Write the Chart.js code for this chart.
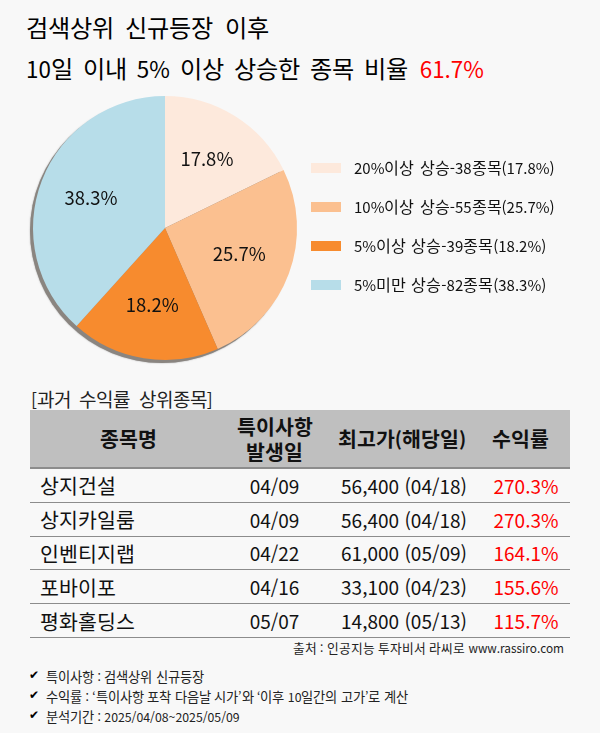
<!DOCTYPE html>
<html lang="ko"><head><meta charset="utf-8">
<script src="https://cdn.jsdelivr.net/npm/chart.js@4/dist/chart.umd.min.js"></script>
<style>
@font-face{font-family:"HG";src:local("Noto Sans CJK KR"),local("Noto Sans CJK KR Regular"),local("NotoSansCJKkr-Regular");font-weight:400;unicode-range:U+AC00-D7A3;size-adjust:108%;}
@font-face{font-family:"HG";src:local("Noto Sans CJK KR Bold"),local("NotoSansCJKkr-Bold");font-weight:700;unicode-range:U+AC00-D7A3;size-adjust:108%;}
html,body{margin:0;padding:0;background:#f8f8f8;}
body{position:relative;width:600px;height:733px;overflow:hidden;font-family:"HG","Noto Sans CJK KR","Noto Sans",sans-serif;color:#000;}
.abs{position:absolute;white-space:nowrap;}
#chartBox{position:absolute;left:0;top:0;width:600px;height:380px;}
.sw{position:absolute;left:311px;width:30px;height:10px;}
.lg{position:absolute;left:354px;font-size:15px;line-height:20px;white-space:nowrap;color:#111;word-spacing:1px;}
#tbl{position:absolute;left:30px;top:410px;width:540px;border-collapse:collapse;table-layout:fixed;}
#tbl th{background:#bfbfbf;font-size:19px;line-height:25px;height:57px;padding:0;font-weight:700;border-bottom:2px solid #8c8c8c;color:#111;}
#tbl th:last-child{padding-right:12px;}
#tbl td{height:32.8px;padding:0;font-size:19px;border-bottom:1px solid #8c8c8c;text-align:center;color:#111;white-space:nowrap;}
#tbl td.n{text-align:left;padding-left:10px;}
#tbl td.h{padding-left:4px;}
#tbl td.r{color:#f00;}
.note{position:absolute;left:46px;font-size:12.3px;line-height:16px;white-space:nowrap;color:#222;}
.ck{position:absolute;left:29px;font-size:12px;line-height:14px;color:#000;font-family:"DejaVu Sans";}
</style></head><body>
<div class="abs" style="left:26px;top:11px;font-size:22.4px;line-height:32px;word-spacing:5px;" id="t1"></div>
<div class="abs" style="left:26px;top:52px;font-size:22.4px;line-height:32px;word-spacing:3.7px;"><span id="t2"></span><span id="t3" style="color:#f00;margin-left:12px;"></span></div>
<div id="chartBox"><canvas id="pie" width="600" height="380"></canvas></div>
<div id="legend"></div>
<div class="abs" style="left:31px;top:389px;font-size:17.6px;line-height:22px;color:#222;word-spacing:3.5px;" id="sub"></div>
<table id="tbl"><colgroup><col style="width:197px"><col style="width:95px"><col style="width:160px"><col style="width:88px"></colgroup><thead><tr id="hd"></tr></thead><tbody id="bd"></tbody></table>
<div class="abs" style="right:36px;top:640px;font-size:11.8px;line-height:16px;color:#222;" id="src"></div>
<div id="notes"></div>
<script>
const title1 = "검색상위 신규등장 이후";
const title2 = "10일 이내 5% 이상 상승한 종목 비율";
const titleValue = "61.7%";
const categories = ["20%이상 상승","10%이상 상승","5%이상 상승","5%미만 상승"];
const counts = [38,55,39,82];
const shares = ["17.8%","25.7%","18.2%","38.3%"];
const colors = ["#fde9dc","#fbc090","#f78b2e","#b7dde9"];
const legendTops = [159,198,237,276];
const subTitle = "[과거 수익률 상위종목]";
const headers = ["종목명","특이사항<br>발생일","최고가(해당일)","수익률"];
const names = ["상지건설","상지카일룸","인벤티지랩","포바이포","평화홀딩스"];
const dates = ["04/09","04/09","04/22","04/16","05/07"];
const highs = ["56,400 (04/18)","56,400 (04/18)","61,000 (05/09)","33,100 (04/23)","14,800 (05/13)"];
const returns = ["270.3%","270.3%","164.1%","155.6%","115.7%"];
const source = "출처 : 인공지능 투자비서 라씨로 www.rassiro.com";
const notes = ["특이사항 : 검색상위 신규등장","수익률 : ‘특이사항 포착 다음날 시가’와 ‘이후 10일간의 고가’로 계산","분석기간 : 2025/04/08~2025/05/09"];
const noteTops = [669,689,709];

t1.textContent=title1;t2.textContent=title2;t3.textContent=titleValue;sub.textContent=subTitle;src.textContent=source;
legend.innerHTML=categories.map((c,i)=>`<div class="sw" style="top:${legendTops[i]+4}px;background:${colors[i]}"></div><div class="lg" style="top:${legendTops[i]-1}px">${c}-${counts[i]}종목(${shares[i]})</div>`).join("");
hd.innerHTML=headers.map(h=>`<th>${h}</th>`).join("");
bd.innerHTML=names.map((n,i)=>`<tr><td class="n">${n}</td><td>${dates[i]}</td><td class="h">${highs[i]}</td><td class="r">${returns[i]}</td></tr>`).join("");
document.getElementById("notes").innerHTML=notes.map((n,i)=>`<div class="ck" style="top:${noteTops[i]-1}px">✔</div><div class="note" style="top:${noteTops[i]}px">${n}</div>`).join("");

const pieShadow={id:"pieShadow",beforeDatasetsDraw(c){
  const a=c.getDatasetMeta(0).data[0];if(!a)return;
  const {ctx}=c;ctx.save();ctx.fillStyle="#8a8580";ctx.shadowColor="rgba(90,90,90,.6)";ctx.shadowBlur=1.5;
  ctx.beginPath();ctx.arc(a.x-3,a.y+3,a.outerRadius,0,Math.PI*2);ctx.fill();ctx.restore();
}};
const pieLabels={id:"pieLabels",afterDatasetsDraw(c){
  const {ctx}=c;ctx.save();ctx.font='18.5px "Noto Sans CJK KR"';ctx.fillStyle="#111";ctx.textAlign="center";ctx.textBaseline="middle";
  c.getDatasetMeta(0).data.forEach((a,i)=>{
    const m=(a.startAngle+a.endAngle)/2,r=a.outerRadius*0.6;
    ctx.fillText(shares[i],a.x+Math.cos(m)*r,a.y+Math.sin(m)*r-1.5);
  });ctx.restore();
}};
new Chart(document.getElementById("pie"),{
  type:"pie",
  data:{labels:categories,datasets:[{data:counts,backgroundColor:colors,borderWidth:0}]},
  options:{responsive:false,animation:false,devicePixelRatio:1,
    layout:{padding:{left:33,right:303,top:96,bottom:20}},
    plugins:{legend:{display:false},tooltip:{enabled:false}}},
  plugins:[pieShadow,pieLabels]
});
</script></body></html>
